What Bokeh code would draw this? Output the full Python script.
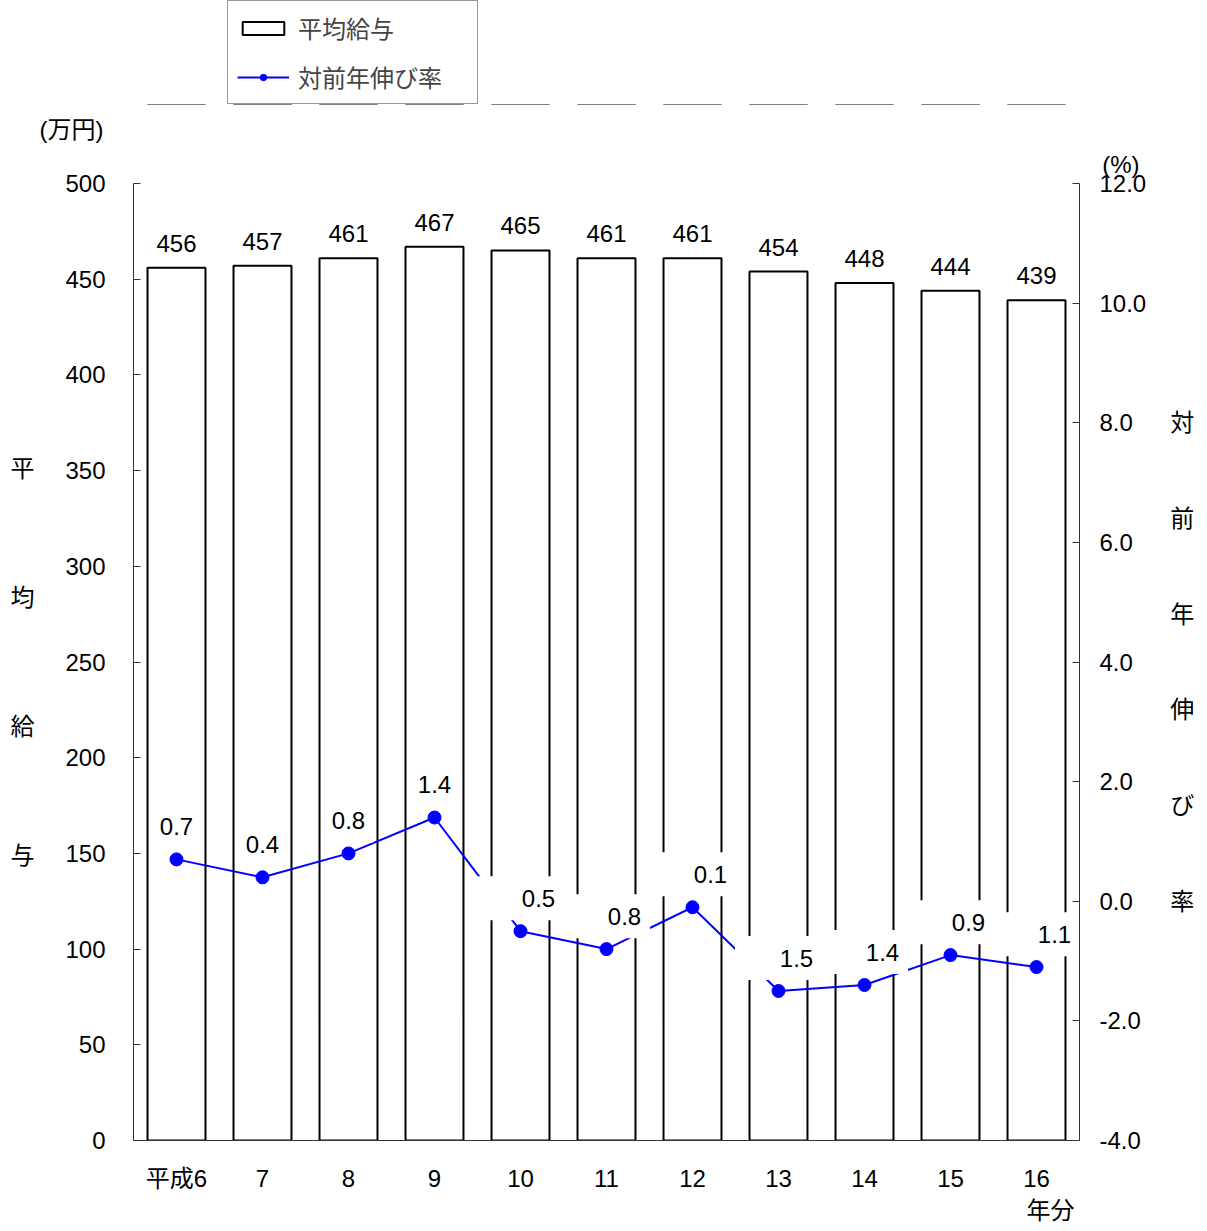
from bokeh.plotting import figure
from bokeh.models import (ColumnDataSource, LinearAxis, Range1d, FactorRange, FixedTicker,
                          NumeralTickFormatter, LabelSet, Legend, LegendItem, Title)
from bokeh.core.properties import value
from bokeh.layouts import column
from bokeh.embed import file_html
from bokeh.resources import INLINE

years = ["平成6", "7", "8", "9", "10", "11", "12", "13", "14", "15", "16"]
salary = [456, 457, 461, 467, 465, 461, 461, 454, 448, 444, 439]
growth = [0.7, 0.4, 0.8, 1.4, -0.5, -0.8, -0.1, -1.5, -1.4, -0.9, -1.1]
left_ticks = [0, 50, 100, 150, 200, 250, 300, 350, 400, 450, 500]
right_ticks = [-4.0, -2.0, 0.0, 2.0, 4.0, 6.0, 8.0, 10.0, 12.0]

FONT = "'Liberation Sans', 'Noto Sans CJK JP'"
FS = "24px"
BLUE = "#0000FF"

src = ColumnDataSource(dict(
    x=years, salary=salary, growth=growth,
    slabel=[str(v) for v in salary],
    glabel=["%.1f" % abs(v) for v in growth],
    gy=[v + 0.55 for v in growth],
    goff=[18 if v < 0 else 0 for v in growth],
    bw=[87 if v < 0 else 50 for v in growth],
))

xr = FactorRange(*years, range_padding=0)

# ---------- header strip holding the legend ----------
TOP_H = 105
top = figure(width=1205, height=TOP_H, x_range=xr, y_range=Range1d(1e6, 2e6),
             output_backend="svg", toolbar_location=None,
             min_border_left=133, min_border_right=126, min_border_top=0, min_border_bottom=0)
top.axis.visible = False
top.grid.visible = False
top.outline_line_color = None
top.background_fill_color = None
# same series, placed on an off-screen range: only their legend swatches show here
lb = top.vbar(x="x", top="salary", width=0.674, source=src, fill_color="white",
              line_color="black", line_width=2)
ll = top.line(x="x", y="growth", source=src, line_color=BLUE, line_width=2)
ls = top.scatter(x="x", y="growth", source=src, size=13, fill_color=BLUE, line_color=BLUE)
legend = Legend(items=[LegendItem(label="平均給与", renderers=[lb]),
                       LegendItem(label="対前年伸び率", renderers=[ll, ls])],
                location=(94, 1), orientation="vertical",
                glyph_width=52, glyph_height=16, label_height=26, label_width=170,
                spacing=14, padding=9, margin=0, label_standoff=9,
                label_text_font=FONT, label_text_font_size=FS,
                border_line_color="#333333", border_line_width=1,
                background_fill_color="white", background_fill_alpha=1)
top.add_layout(legend, "center")

# ---------- main chart ----------
p = figure(width=1205, height=1225 - TOP_H, x_range=xr,
           y_range=Range1d(0, 500), output_backend="svg", toolbar_location=None,
           min_border_left=133, min_border_right=126, min_border_top=184 - 1 - TOP_H,
           min_border_bottom=85)
p.outline_line_color = None
p.xgrid.grid_line_color = None
p.ygrid.grid_line_color = None
p.background_fill_color = "white"
p.border_fill_color = "white"
p.extra_y_ranges = {"pct": Range1d(-4, 12)}

p.vbar(x="x", top="salary", width=0.674, source=src, fill_color="white",
       line_color="black", line_width=2)
p.line(x="x", y="growth", source=src, y_range_name="pct", line_color=BLUE, line_width=2)
p.scatter(x="x", y="growth", source=src, y_range_name="pct", size=13,
          fill_color=BLUE, line_color=BLUE)
p.rect(x="x", y="gy", width="bw", height=44, width_units="screen", height_units="screen",
       source=src, y_range_name="pct", fill_color="white", line_color=None)

p.add_layout(LabelSet(x="x", y="salary", text="slabel", source=src, y_offset=16,
                      text_align="center", text_baseline="bottom",
                      text_font=value(FONT), text_font_size=value(FS), text_color="black"))
p.add_layout(LabelSet(x="x", y="gy", text="glabel", source=src, y_range_name="pct",
                      x_offset="goff", text_align="center", text_baseline="middle",
                      text_font=value(FONT), text_font_size=value(FS), text_color="black"))

def style_axis(ax, standoff):
    ax.axis_line_color = "#333333"
    ax.major_tick_line_color = "#333333"
    ax.minor_tick_line_color = None
    ax.major_tick_in = 7
    ax.major_tick_out = 0
    ax.major_label_standoff = standoff
    ax.major_label_text_font = FONT
    ax.major_label_text_font_size = FS
    ax.major_label_text_color = "black"
    ax.axis_label_text_font = FONT
    ax.axis_label_text_font_size = FS
    ax.axis_label_text_font_style = "normal"
    ax.axis_label_text_color = "black"
    ax.axis_label_orientation = "horizontal"

ya = p.yaxis[0]
ya.ticker = FixedTicker(ticks=left_ticks)
style_axis(ya, 28)
ya.axis_label = "\n".join("平均給与")
ya.axis_label_text_line_height = 4.77
ya.axis_label_standoff = 28

ra = LinearAxis(y_range_name="pct", ticker=FixedTicker(ticks=right_ticks),
                formatter=NumeralTickFormatter(format="0.0"))
style_axis(ra, 20)
ra.axis_label = "\n".join("対前年伸び率")
ra.axis_label_text_line_height = 3.55
ra.axis_label_standoff = 21
p.add_layout(ra, "right")

xa = p.xaxis[0]
style_axis(xa, 24)
xa.major_tick_line_color = None

def title(text, align, offset, side, standoff=0):
    p.add_layout(Title(text=text, align=align, offset=offset, standoff=standoff,
                       text_font=FONT, text_font_size=FS, text_font_style="normal",
                       text_color="black"), side)

title("(%)", "right", -60, "above", 12)
title("(万円)", "left", -94, "above", 0)
title("年分", "right", 5, "below", 0)

layout = column(top, p, spacing=0)
open("out.html", "w").write(file_html(layout, INLINE))
